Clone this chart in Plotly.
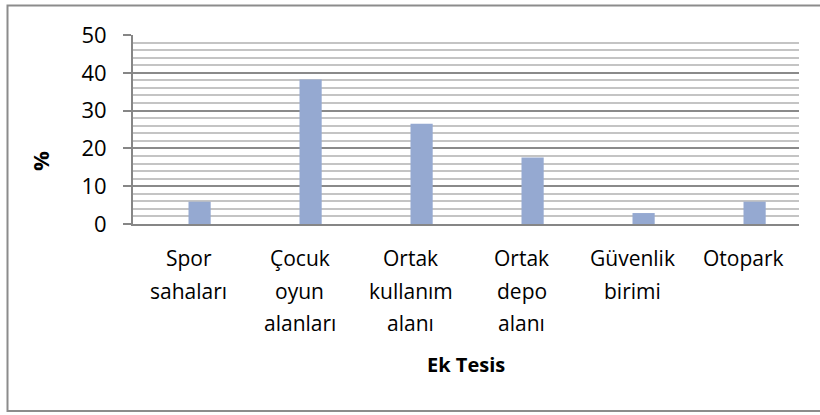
import plotly.graph_objects as go

categories = ["Spor sahaları", "Çocuk oyun alanları", "Ortak kullanım alanı",
              "Ortak depo alanı", "Güvenlik birimi", "Otopark"]
values = [5.9, 38.2, 26.5, 17.6, 2.9, 5.9]
y_ticks = [0, 10, 20, 30, 40, 50]
x_title = "Ek Tesis"
y_title = "%"

FONT = "'Open Sans', sans-serif"

fig = go.Figure()
fig.add_trace(go.Bar(
    x=categories, y=values,
    marker=dict(color="#95a9d1", line=dict(width=0)),
    width=0.2, offset=0,
    hoverinfo="x+y",
))

L, R, T, B = 133, 799, 35, 224
W, H = 820, 415
pw, ph = R - L, B - T

def px_x(x):
    return (x - L) / pw

def px_y(y):
    return (B - y) / ph

annotations = []
LINE = 32.5
for cat in categories:
    for i, word in enumerate(cat.split(" ")):
        annotations.append(dict(
            x=cat, xref="x", y=0, yref="paper", text=word, showarrow=False,
            xanchor="center", yanchor="middle", yshift=-(34 + LINE * i),
            font=dict(family=FONT, size=21, color="black"),
        ))
annotations.append(dict(
    x=0.5, xref="paper", y=0, yref="paper", text="<b>%s</b>" % x_title, showarrow=False,
    xanchor="center", yanchor="middle", yshift=-(364 - B),
    font=dict(family=FONT, size=20, color="black"),
))
annotations.append(dict(
    x=px_x(40), xref="paper", y=px_y(161), yref="paper", text="<b>%s</b>" % y_title,
    showarrow=False, textangle=-90, xanchor="center", yanchor="middle",
    font=dict(family=FONT, size=22, color="black"),
))

fig.update_layout(
    width=W, height=H,
    margin=dict(l=L, r=W - R, t=T, b=H - B, autoexpand=False),
    paper_bgcolor="white", plot_bgcolor="white",
    showlegend=False,
    font=dict(family=FONT, size=21, color="black"),
    xaxis=dict(
        showgrid=False, showline=True, linecolor="#868686", linewidth=2,
        ticks="", showticklabels=False, fixedrange=True,
    ),
    yaxis=dict(
        range=[0, 50], tickvals=y_ticks, ticktext=[str(v) for v in y_ticks],
        showgrid=True, gridcolor="#8a8a8a", gridwidth=2,
        minor=dict(dtick=2, showgrid=True, gridcolor="#c4c4c4", gridwidth=2),
        showline=True, linecolor="#868686", linewidth=2,
        ticks="outside", ticklen=8, tickcolor="#868686", tickwidth=2,
        ticklabelstandoff=12,
        tickfont=dict(family=FONT, size=22, color="black"),
        zeroline=False, fixedrange=True,
    ),
    annotations=annotations,
    shapes=[dict(
        type="rect", xref="paper", yref="paper",
        x0=px_x(7.5), x1=px_x(830), y0=px_y(411), y1=px_y(5.5),
        line=dict(color="#8c8c8c", width=2), fillcolor="rgba(0,0,0,0)", layer="below",
    )],
)

fig.write_html("out.html", config={"displayModeBar": False},
               post_script="document.body.style.margin='0';document.body.style.overflow='hidden';")
